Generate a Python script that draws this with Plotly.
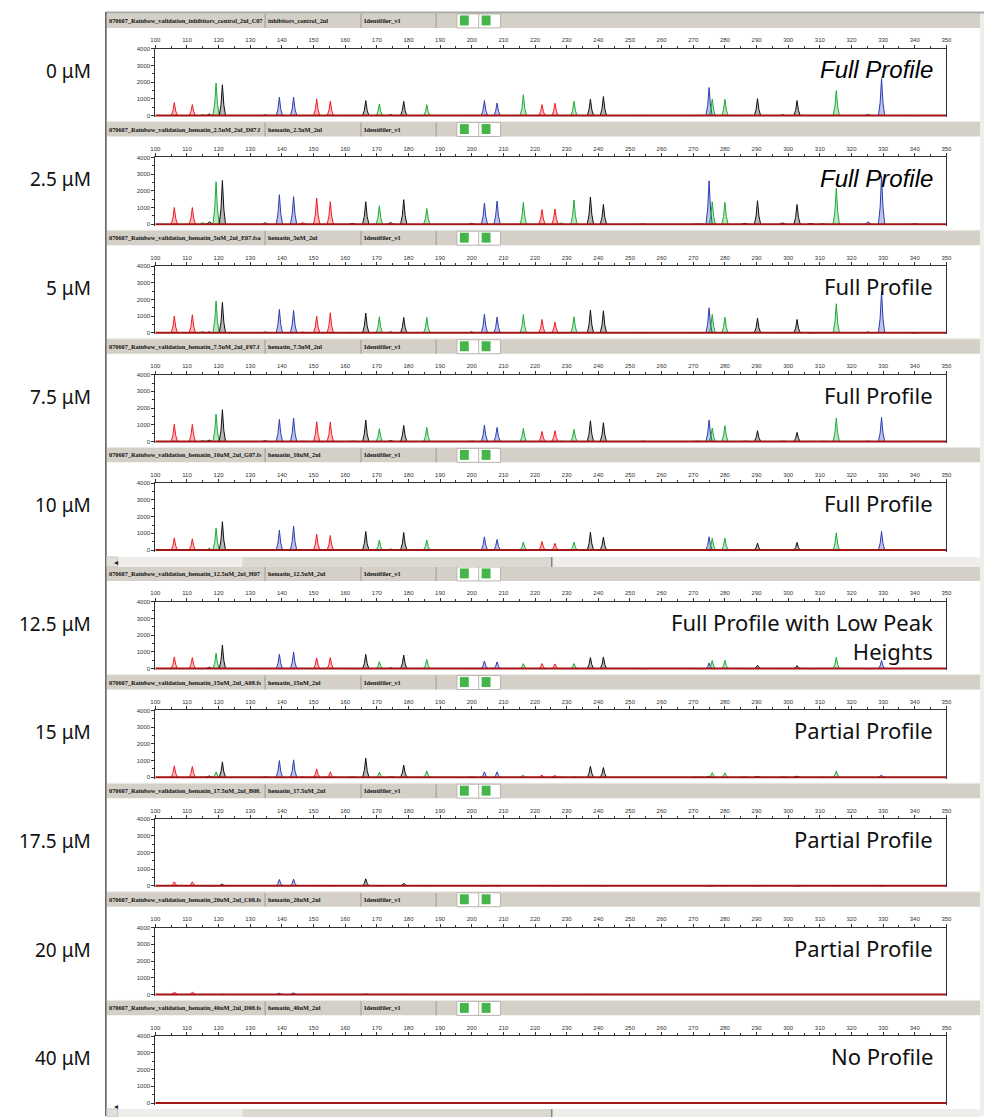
import plotly.graph_objects as go

W, H = 990, 1117

# concentration of hematin for each run (top to bottom)
conc_labels = ["0 μM", "2.5 μM", "5 μM", "7.5 μM", "10 μM",
               "12.5 μM", "15 μM", "17.5 μM", "20 μM", "40 μM"]
profile_labels = ["Full Profile", "Full Profile", "Full Profile", "Full Profile", "Full Profile",
                  "Full Profile with Low Peak<br>Heights", "Partial Profile", "Partial Profile",
                  "Partial Profile", "No Profile"]
# window titles as far as they are visible in the title bars
file_names = ["070607_Rainbow_validation_inhibitors_control_2ul_C07",
              "070607_Rainbow_validation_hematin_2.5uM_2ul_D07.f",
              "070607_Rainbow_validation_hematin_5uM_2ul_E07.fsa",
              "070607_Rainbow_validation_hematin_7.5uM_2ul_F07.f",
              "070607_Rainbow_validation_hematin_10uM_2ul_G07.fs",
              "070607_Rainbow_validation_hematin_12.5uM_2ul_H07",
              "070607_Rainbow_validation_hematin_15uM_2ul_A08.fs",
              "070607_Rainbow_validation_hematin_17.5uM_2ul_B08.",
              "070607_Rainbow_validation_hematin_20uM_2ul_C08.fs",
              "070607_Rainbow_validation_hematin_40uM_2ul_D08.fs"]
sample_names = ["inhibitors_control_2ul", "hematin_2.5uM_2ul", "hematin_5uM_2ul",
                "hematin_7.5uM_2ul", "hematin_10uM_2ul", "hematin_12.5uM_2ul",
                "hematin_15uM_2ul", "hematin_17.5uM_2ul", "hematin_20uM_2ul",
                "hematin_40uM_2ul"]
panel_name = "Identifiler_v1"

# allele peaks: size (bp) and dye
peak_size = [106.0, 111.7, 115.0, 117.1, 119.2, 121.2, 134.8, 139.2, 143.7, 146.6,
             151.0, 155.3, 162.3, 166.5, 170.8, 174.4, 178.5, 185.8, 200.0, 204.0,
             208.0, 216.3, 222.2, 226.3, 228.3, 232.3, 237.5, 241.6, 254.0, 271.0,
             272.3, 275.0, 276.0, 280.0, 286.3, 290.3, 298.3, 302.8, 307.2, 311.0,
             315.2, 325.2, 329.5, 340.0]
peak_dye = ["R", "R", "G", "K", "G", "K", "B", "B", "B", "R",
            "R", "R", "K", "K", "G", "K", "K", "G", "B", "B",
            "B", "G", "R", "R", "G", "G", "K", "K", "B", "B",
            "G", "B", "G", "G", "K", "K", "K", "K", "K", "G",
            "G", "B", "B", "K"]

# peak heights (RFU) per run, same order as peak_size
h_0 = [780, 660, 60, 100, 1950, 1850, 50, 1100, 1100, 40, 1000, 870, 30, 900, 700, 60, 850, 650,
       40, 900, 750, 1250, 660, 740, 40, 860, 980, 1140, 30, 40, 40, 1680, 980, 980, 40, 1020, 50,
       900, 30, 40, 1500, 80, 2220, 20]
h_2_5 = [1000, 1000, 100, 150, 2550, 2620, 100, 1770, 1650, 100, 1570, 1350, 50, 1350, 1110, 100,
         1470, 940, 60, 1270, 1390, 1310, 880, 910, 80, 1450, 1630, 1180, 30, 40, 40, 2600, 1350,
         1310, 60, 1410, 80, 1180, 50, 50, 2150, 150, 2900, 30]
h_5 = [1000, 1080, 80, 60, 1900, 1820, 60, 1400, 1340, 50, 1000, 1200, 30, 1180, 960, 60, 920, 920,
       70, 1120, 940, 1100, 800, 640, 30, 960, 1360, 1320, 30, 40, 40, 1500, 1100, 940, 40, 880, 40,
       800, 20, 40, 1740, 60, 2480, 20]
h_7_5 = [1040, 1020, 60, 80, 1640, 1900, 50, 1320, 1400, 40, 1180, 1160, 30, 1280, 760, 50, 960, 840,
         40, 980, 840, 780, 600, 640, 30, 720, 1240, 1120, 30, 40, 40, 1280, 800, 940, 30, 640, 30,
         540, 20, 40, 1400, 40, 1440, 10]
h_10 = [730, 670, 40, 80, 1310, 1700, 40, 1190, 1430, 30, 950, 870, 30, 1110, 600, 60, 1050, 600,
        30, 790, 630, 480, 515, 400, 20, 475, 1070, 770, 20, 30, 30, 790, 710, 710, 30, 415, 20,
        455, 10, 20, 1030, 30, 1110, 0]
h_12_5 = [700, 660, 30, 90, 915, 1410, 40, 855, 1000, 40, 640, 660, 20, 855, 420, 50, 815, 540,
          30, 460, 400, 300, 300, 280, 20, 300, 660, 700, 10, 20, 30, 340, 480, 500, 20, 200, 30,
          180, 10, 30, 680, 20, 480, 0]
h_15 = [680, 640, 30, 80, 320, 920, 40, 1000, 1040, 20, 500, 320, 20, 1140, 300, 40, 720, 380,
        20, 320, 320, 120, 120, 100, 10, 40, 660, 580, 0, 10, 10, 60, 280, 260, 10, 50, 10,
        60, 0, 10, 380, 0, 120, 0]
h_17_5 = [240, 240, 30, 20, 40, 100, 0, 380, 400, 0, 30, 20, 0, 420, 20, 0, 160, 20,
          0, 20, 20, 0, 20, 10, 0, 0, 40, 40, 0, 0, 0, 10, 10, 10, 0, 30, 0,
          10, 0, 0, 20, 0, 10, 0]
h_20 = [140, 140, 30, 20, 20, 30, 0, 80, 100, 0, 10, 10, 0, 40, 0, 0, 20, 0,
        0, 0, 0, 0, 0, 0, 0, 0, 10, 10, 0, 0, 0, 0, 0, 0, 0, 0, 0,
        0, 0, 0, 0, 0, 0, 0]
h_40 = [0, 0, 0, 0, 0, 0, 0, 0, 0, 0, 0, 0, 0, 40, 0, 0, 0, 0,
        0, 0, 0, 0, 0, 0, 0, 0, 0, 0, 0, 0, 0, 0, 0, 0, 0, 0, 0,
        0, 0, 0, 0, 0, 0, 0]
heights = [h_0, h_2_5, h_5, h_7_5, h_10, h_12_5, h_15, h_17_5, h_20, h_40]

x_ticks = list(range(100, 351, 10))
y_ticks = [0, 1000, 2000, 3000, 4000]

dye_color = {"B": "#2b3eb0", "G": "#1faa3a", "K": "#111111", "R": "#ee1c25"}
dye_fill = {"B": "rgba(43,62,176,0.3)", "G": "rgba(31,170,58,0.3)",
            "K": "rgba(17,17,17,0.3)", "R": "rgba(238,28,37,0.3)"}
# peak glyph (offset in bp, fraction of height)
glyph = [(-1.0, 0.0), (-0.45, 0.35), (0.0, 1.0), (0.45, 0.35), (1.0, 0.0)]


def px(x):
    return x / W


def py(y):
    return 1 - y / H


# pixel rows of the 4000 line of every panel
top_rows = [46 + 109 * i for i in range(5)] + [601 + 109 * i for i in range(5)]
PH = 67  # pixel height of 0..4000

fig = go.Figure()
layout = {}
shapes = []
annotations = []

for i, hs in enumerate(heights):
    n = "" if i == 0 else str(i + 1)
    y4 = top_rows[i]
    y0 = y4 + PH
    ybot = y0 + 100 * PH / 4000

    for dye in ["B", "G", "K", "R"]:
        xs, ys = [], []
        for s, d, h in zip(peak_size, peak_dye, hs):
            if d != dye or h <= 0:
                continue
            for dx, f in glyph:
                xs.append(s + dx)
                ys.append(h * f)
            xs.append(None)
            ys.append(None)
        if xs:
            fig.add_trace(go.Scatter(x=xs, y=ys, mode="lines", xaxis="x" + n, yaxis="y" + n,
                                     line=dict(color=dye_color[dye], width=1),
                                     fill="toself", fillcolor=dye_fill[dye],
                                     hoverinfo="skip", showlegend=False))
    fig.add_trace(go.Scatter(x=[100, 350], y=[0, 0], mode="lines", xaxis="x" + n, yaxis="y" + n,
                             line=dict(color="#a31515", width=2), hoverinfo="skip", showlegend=False))

    layout["xaxis" + n] = dict(domain=[px(152), px(952)], range=[100, 350], anchor="y" + n,
                               side="top", showline=True, linecolor="#333", linewidth=1,
                               tickmode="array", tickvals=x_ticks, ticks="outside", ticklen=3,
                               tickcolor="#333", tickfont=dict(size=6, color="#333", family="Arial"),
                               minor=dict(dtick=5, ticklen=2, ticks="outside", tickcolor="#333"),
                               showgrid=False, zeroline=False, fixedrange=True)
    layout["yaxis" + n] = dict(domain=[py(ybot), py(y4)], range=[-100, 4000], anchor="x" + n,
                               showline=True, mirror=True, linecolor="#333", linewidth=1,
                               tickmode="array", tickvals=y_ticks, ticks="outside", ticklen=3,
                               tickcolor="#333", tickfont=dict(size=6, color="#333", family="Arial"),
                               minor=dict(dtick=500, ticklen=2, ticks="outside", tickcolor="#333"),
                               showgrid=False, zeroline=False, fixedrange=True)

    # title bar of the sample window
    ht, hb = y4 - 36, y4 - 21
    shapes.append(dict(type="rect", xref="paper", yref="paper", x0=px(103), x1=px(986),
                       y0=py(hb), y1=py(ht), fillcolor="#d4d0c8", line=dict(width=0), layer="below"))
    shapes.append(dict(type="line", xref="paper", yref="paper", x0=px(103), x1=px(986),
                       y0=py(ht), y1=py(ht), line=dict(color="#ecebe6", width=1)))
    for sx in [263, 360, 436]:
        shapes.append(dict(type="line", xref="paper", yref="paper", x0=px(sx), x1=px(sx),
                           y0=py(hb), y1=py(ht + 1), line=dict(color="#9d9890", width=1)))
    shapes.append(dict(type="rect", xref="paper", yref="paper", x0=px(457), x1=px(501),
                       y0=py(hb), y1=py(ht + 1), fillcolor="white", line=dict(color="#b8b5ae", width=1)))
    shapes.append(dict(type="line", xref="paper", yref="paper", x0=px(479), x1=px(479),
                       y0=py(hb), y1=py(ht + 1), line=dict(color="#b8b5ae", width=1)))
    for gx in [460, 482]:
        shapes.append(dict(type="rect", xref="paper", yref="paper", x0=px(gx), x1=px(gx + 9),
                           y0=py(hb - 2.5), y1=py(ht + 2.5), fillcolor="#46b549", line=dict(width=0)))
    hy = py((ht + hb) / 2)
    for tx, cw, txt in [(104, 157, file_names[i]), (265, 92, sample_names[i]), (362, 72, panel_name)]:
        annotations.append(dict(x=px(tx), y=hy, xref="paper", yref="paper", text="<b>" + txt + "</b>",
                                showarrow=False, xanchor="left", yanchor="middle", width=cw,
                                align="left", borderpad=0,
                                font=dict(family="Liberation Serif", size=6.3, color="#111")))

    # concentration label and profile call
    annotations.append(dict(x=px(89), y=py(y4 + 22), xref="paper", yref="paper", text=conc_labels[i],
                            showarrow=False, xanchor="right", yanchor="middle",
                            font=dict(family="Noto Sans", size=19, color="#111")))
    if i < 2:
        annotations.append(dict(x=px(940), y=py(y4 + 21), xref="paper", yref="paper",
                                text="<i>" + profile_labels[i] + "</i>", showarrow=False,
                                xanchor="right", yanchor="middle",
                                font=dict(family="Liberation Sans", size=24, color="#000")))
    elif i == 5:
        annotations.append(dict(x=px(940), y=py(y4 + 35), xref="paper", yref="paper",
                                text=profile_labels[i], showarrow=False, xanchor="right",
                                yanchor="middle", align="right",
                                font=dict(family="Noto Sans", size=22, color="#111")))
    else:
        annotations.append(dict(x=px(940), y=py(y4 + 20), xref="paper", yref="paper",
                                text=profile_labels[i], showarrow=False, xanchor="right",
                                yanchor="middle", font=dict(family="Noto Sans", size=22, color="#111")))

# window frame and scroll bars
shapes.append(dict(type="rect", xref="paper", yref="paper", x0=px(986), x1=px(990), y0=0, y1=py(9),
                   fillcolor="#eeeeea", line=dict(width=0)))
shapes.append(dict(type="line", xref="paper", yref="paper", x0=px(102), x1=px(990), y0=py(9.5), y1=py(9.5),
                   line=dict(color="#a8a8a8", width=2)))
shapes.append(dict(type="line", xref="paper", yref="paper", x0=px(102), x1=px(102), y0=0, y1=py(9),
                   line=dict(color="#555", width=1.5)))
for st, sb in [(556, 566), (1110, 1118)]:
    shapes.append(dict(type="rect", xref="paper", yref="paper", x0=px(103), x1=px(986),
                       y0=py(sb), y1=py(st), fillcolor="#efeeea", line=dict(width=0)))
    shapes.append(dict(type="rect", xref="paper", yref="paper", x0=px(103), x1=px(114),
                       y0=py(sb), y1=py(st), fillcolor="#e2e0da", line=dict(color="#c8c5be", width=1)))
    shapes.append(dict(type="rect", xref="paper", yref="paper", x0=px(240), x1=px(553),
                       y0=py(sb), y1=py(st), fillcolor="#dcd9d2", line=dict(width=0)))
    shapes.append(dict(type="line", xref="paper", yref="paper", x0=px(553), x1=px(553),
                       y0=py(sb), y1=py(st), line=dict(color="#555", width=1)))
    annotations.append(dict(x=px(108.5), y=py((st + sb) / 2), xref="paper", yref="paper", text="◂",
                            showarrow=False, font=dict(size=8, color="#222")))

layout.update(width=W, height=H, margin=dict(l=0, r=0, t=0, b=0),
              paper_bgcolor="white", plot_bgcolor="white",
              shapes=shapes, annotations=annotations, showlegend=False)
fig.update_layout(**layout)
fig.write_html("out.html", config={"displayModeBar": False},
               post_script="document.body.style.margin='0px';document.body.style.overflow='hidden';")
